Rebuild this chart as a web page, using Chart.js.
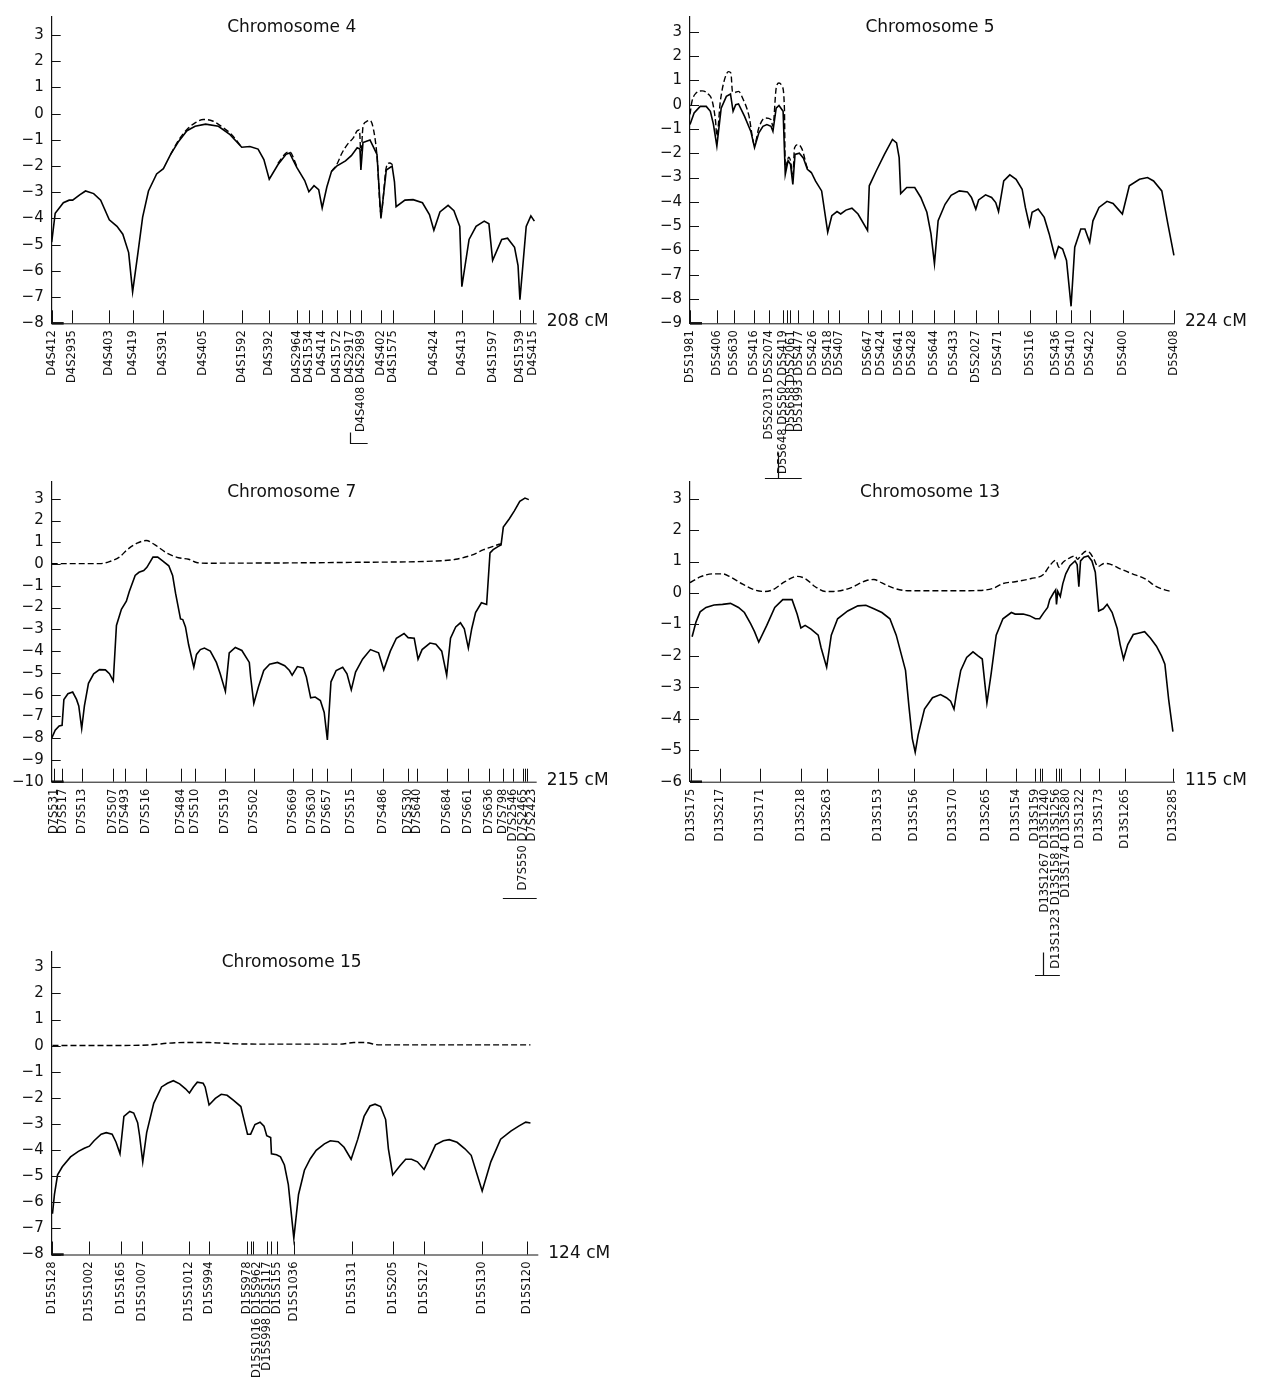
<!DOCTYPE html>
<html>
<head>
<meta charset="utf-8">
<script src="https://cdn.jsdelivr.net/npm/chart.js@4.4.0/dist/chart.umd.min.js"></script>
<style>
  html, body { margin: 0; padding: 0; background: #fff; }
  #page { position: relative; width: 1262px; height: 1384px; }
  #page canvas { position: absolute; }
</style>
</head>
<body>
<div id="page"></div>
<script>
// ---- Chromosome 4 ----
const chr4Markers = ["D4S412", "D4S2935", "D4S403", "D4S419", "D4S391", "D4S405", "D4S1592", "D4S392", "D4S2964", "D4S1534", "D4S414", "D4S1572", "D4S2917", "D4S408 D4S2989", "D4S402", "D4S1575", "D4S424", "D4S413", "D4S1597", "D4S1539", "D4S415"];
const chr4MarkerCM = [0, 8.8, 24.7, 34.7, 47.9, 64.8, 81.5, 93.3, 105.1, 110.3, 116.0, 122.2, 127.9, 132.6, 141.2, 146.5, 163.9, 175.9, 189.1, 200.8, 206.5];
const chr4SolidCM = [0, 1.5, 5, 7.5, 9, 12, 14.5, 18, 21, 24.7, 28, 30.5, 33, 34.7, 37, 39, 41.5, 45, 47.9, 51, 54.5, 58, 61.5, 66, 71.5, 76.5, 81.5, 85, 88.5, 91, 93.3, 97, 100.5, 102, 105.1, 108.5, 110.3, 112.5, 114.5, 116, 118, 120, 122.2, 126, 128.5, 131, 132.2, 132.6, 133.5, 136.5, 139.5, 141.2, 143.5, 146, 147, 147.7, 151.5, 155, 159, 162, 163.9, 166.5, 170, 172.5, 175, 175.9, 179, 182, 185.5, 187.5, 189.1, 193, 195.5, 198.5, 200, 200.8, 203.5, 205.5, 207];
const chr4SolidLod = [-4.9, -3.8, -3.4, -3.3, -3.3, -3.1, -2.95, -3.05, -3.3, -4.05, -4.3, -4.6, -5.3, -6.8, -5.3, -3.95, -2.95, -2.3, -2.1, -1.55, -1.05, -0.65, -0.48, -0.4, -0.48, -0.8, -1.28, -1.25, -1.35, -1.75, -2.5, -1.95, -1.55, -1.5, -2.05, -2.55, -2.98, -2.75, -2.9, -3.6, -2.8, -2.2, -2.0, -1.8, -1.6, -1.3, -1.35, -2.15, -1.1, -1.0, -1.55, -4.0, -2.15, -2.0, -2.6, -3.55, -3.3, -3.28, -3.4, -3.85, -4.45, -3.75, -3.5, -3.7, -4.3, -6.6, -4.8, -4.3, -4.1, -4.2, -5.6, -4.8, -4.75, -5.1, -5.8, -7.1, -4.3, -3.9, -4.1];
const chr4DashCM = [51, 54.5, 58, 61.5, 65, 69, 73, 77, 81.5, null, 97, 100.5, 102, 105.1, null, 120, 122.2, 124.5, 127, 129.5, 131, 132, 132.6, 133.5, 135, 136.5, 138, 139.5, 141.2, 143.5, 145, 146.2];
const chr4DashLod = [-1.55, -1.0, -0.6, -0.35, -0.22, -0.28, -0.5, -0.78, -1.28, null, -1.9, -1.5, -1.45, -2.0, null, -2.2, -1.95, -1.5, -1.15, -0.9, -0.65, -0.62, -1.6, -0.5, -0.3, -0.25, -0.6, -1.6, -3.8, -2.05, -1.88, -1.95];
const chr4Bar = [127.9, 135.5, 127.9];

// ---- Chromosome 5 ----
const chr5Markers = ["D5S1981", "D5S406", "D5S630", "D5S416", "D5S2031 D5S2074", "D5S648 D5S502 D5S419", "", "D5S658 D5S2061", "D5S1993 D5S477", "D5S426", "D5S418", "D5S407", "D5S647", "D5S424", "D5S641", "D5S428", "D5S644", "D5S433", "D5S2027", "D5S471", "D5S116", "D5S436", "D5S410", "D5S422", "D5S400", "D5S408"];
const chr5MarkerCM = [0, 12.5, 20.1, 29.7, 36.3, 43.1, 44.7, 46.2, 50.0, 57.0, 63.8, 68.6, 82.3, 88.4, 96.6, 102.4, 112.9, 121.8, 132.1, 142.4, 157.0, 169.0, 175.9, 184.9, 199.8, 223.5];
const chr5SolidCM = [0, 1.9, 4.7, 7.5, 9.4, 10.8, 12.4, 14.4, 16.8, 18.7, 19.9, 21.1, 22.4, 25.2, 28.1, 29.8, 31.8, 33.7, 35.5, 37.4, 38.3, 39.8, 41.1, 43.0, 44.0, 45.3, 46.4, 47.5, 48.5, 50.5, 52.4, 54.2, 56.1, 58.0, 60.8, 63.6, 65.5, 67.9, 69.6, 72.0, 74.8, 77.6, 82.0, 82.8, 86.0, 89.8, 93.5, 95.4, 96.6, 97.3, 100.1, 103.8, 106.6, 109.4, 111.3, 112.9, 114.6, 117.8, 120.6, 124.4, 128.1, 130.0, 132.0, 133.3, 136.5, 139.3, 141.2, 142.5, 144.9, 147.7, 150.6, 153.4, 154.9, 156.8, 158.0, 160.8, 163.6, 165.9, 168.6, 170.2, 172.1, 173.9, 176.0, 177.7, 180.5, 182.4, 184.6, 186.1, 188.9, 192.6, 195.4, 197.7, 199.7, 202.9, 207.6, 211.3, 214.1, 217.9, 220.7, 223.5];
const chr5SolidLod = [-0.82, -0.34, -0.07, -0.07, -0.27, -0.8, -1.7, -0.14, 0.34, 0.44, -0.27, 0.0, 0.03, -0.48, -1.1, -1.77, -1.16, -0.89, -0.82, -0.89, -1.1, -0.14, -0.03, -0.27, -2.87, -2.3, -2.45, -3.28, -2.05, -2.0, -2.2, -2.66, -2.8, -3.15, -3.55, -5.25, -4.57, -4.4, -4.5, -4.34, -4.26, -4.5, -5.18, -3.34, -2.73, -2.05, -1.43, -1.57, -2.18, -3.66, -3.41, -3.41, -3.82, -4.43, -5.32, -6.55, -4.78, -4.1, -3.73, -3.55, -3.59, -3.82, -4.3, -3.92, -3.71, -3.82, -4.03, -4.4, -3.14, -2.89, -3.07, -3.48, -4.23, -4.98, -4.43, -4.3, -4.64, -5.32, -6.28, -5.84, -5.94, -6.41, -8.3, -5.87, -5.12, -5.12, -5.66, -4.78, -4.23, -3.98, -4.07, -4.3, -4.5, -3.34, -3.07, -3.0, -3.14, -3.55, -4.91, -6.2];
const chr5DashCM = [0, 0.9, 2.8, 5.6, 8.4, 10.3, 11.8, 12.4, 14.0, 15.9, 17.8, 18.9, 19.6, 20.6, 22.4, 24.3, 27.1, 29.8, 31.8, 34.6, 37.4, 38.3, 39.8, 41.1, 42.6, 43.6, 44.0, 45.6, 46.4, 47.5, 48.3, 50.0, 51.8, 54.2, 56.1];
const chr5DashLod = [-0.4, 0.13, 0.48, 0.57, 0.44, 0.14, -0.68, -1.3, 0.13, 1.02, 1.36, 1.3, 0.55, 0.5, 0.55, 0.27, -0.41, -1.64, -0.95, -0.55, -0.61, -0.89, 0.68, 0.89, 0.75, -0.14, -2.6, -2.16, -2.3, -2.87, -1.77, -1.64, -1.84, -2.6, -2.8];
const chr5Bar = [34.6, 51.6, 40.8];

// ---- Chromosome 7 ----
const chr7Markers = ["D7S531", "D7S517", "D7S513", "D7S507", "D7S493", "D7S516", "D7S484", "D7S510", "D7S519", "D7S502", "D7S669", "D7S630", "D7S657", "D7S515", "D7S486", "D7S530", "D7S640", "D7S684", "D7S661", "D7S636", "D7S798", "D7S2546", "D7S550 D7S2465", "", "D7S2423"];
const chr7MarkerCM = [1.0, 4.4, 13.3, 27.3, 32.6, 41.8, 57.4, 63.4, 77.0, 89.5, 106.8, 115.4, 121.9, 132.5, 147.0, 158.1, 162.1, 175.1, 184.7, 194.0, 199.9, 204.3, 208.8, 209.8, 210.8];
const chr7SolidCM = [0, 1.55, 3.3, 4.6, 5.4, 7.2, 9.3, 11.0, 12.0, 13.3, 14.5, 16.3, 18.6, 21.2, 23.8, 25.6, 27.3, 28.7, 30.9, 33.1, 34.4, 37.0, 38.7, 40.8, 42.2, 44.9, 47.0, 49.3, 51.9, 53.6, 54.9, 57.1, 58.1, 59.3, 60.7, 63.0, 64.2, 65.9, 67.7, 70.3, 73.0, 74.7, 77.0, 78.7, 81.4, 84.3, 87.6, 88.2, 89.6, 91.7, 94.0, 96.6, 100.1, 103.3, 105.4, 106.6, 108.9, 111.5, 112.9, 114.8, 116.8, 119.1, 120.8, 122.2, 123.8, 126.1, 129.0, 130.9, 132.8, 134.7, 137.8, 141.3, 144.9, 147.2, 150.1, 152.8, 156.2, 158.0, 160.7, 162.4, 164.2, 167.7, 170.3, 172.9, 175.1, 176.8, 179.1, 181.2, 182.9, 184.7, 186.2, 187.9, 190.5, 192.8, 194.3, 195.7, 198.0, 199.2, 200.2, 202.8, 205.1, 207.5, 209.8, 211.5];
const chr7SolidLod = [-8.0, -7.63, -7.44, -7.41, -6.22, -5.96, -5.88, -6.22, -6.52, -7.56, -6.52, -5.48, -5.04, -4.85, -4.86, -5.04, -5.37, -2.82, -2.08, -1.71, -1.26, -0.52, -0.38, -0.3, -0.15, 0.32, 0.32, 0.14, -0.08, -0.52, -1.34, -2.52, -2.55, -2.89, -3.71, -4.74, -4.15, -3.93, -3.86, -4.0, -4.52, -5.04, -5.85, -4.08, -3.83, -3.97, -4.52, -5.19, -6.4, -5.63, -4.89, -4.6, -4.52, -4.67, -4.89, -5.11, -4.71, -4.77, -5.19, -6.15, -6.11, -6.27, -6.82, -8.08, -5.41, -4.89, -4.74, -5.04, -5.78, -4.96, -4.37, -3.93, -4.08, -4.86, -4.0, -3.41, -3.19, -3.38, -3.41, -4.37, -3.93, -3.63, -3.68, -4.0, -5.11, -3.41, -2.89, -2.7, -2.97, -3.86, -2.97, -2.23, -1.78, -1.86, 0.51, 0.66, 0.81, 0.88, 1.7, 2.07, 2.44, 2.88, 3.03, 2.96];
const chr7DashCM = [0, 12.4, 21.2, 25.6, 30.0, 33.5, 37.9, 41.9, 45.8, 51.0, 56.2, 60.7, 64.2, 68.5, 100.1, 135.2, 170.3, 179.1, 186.2, 191.5, 195.7, 198.3, 199.2];
const chr7DashLod = [0.02, 0.02, 0.02, 0.11, 0.32, 0.66, 0.96, 1.08, 0.88, 0.51, 0.29, 0.22, 0.07, 0.04, 0.05, 0.08, 0.14, 0.22, 0.41, 0.66, 0.81, 0.91, 0.93];
const chr7Bar = [200.0, 215.0, null];

// ---- Chromosome 13 ----
const chr13Markers = ["D13S175", "D13S217", "D13S171", "D13S218", "D13S263", "D13S153", "D13S156", "D13S170", "D13S265", "D13S154", "D13S159", "D13S1267 D13S1240", "", "D13S1323 D13S158 D13S1256", "", "D13S174 D13S280", "D13S1322", "D13S173", "D13S1265", "D13S285"];
const chr13MarkerCM = [0.3, 7.1, 16.5, 26.4, 32.5, 44.5, 53.2, 62.4, 70.1, 77.4, 81.8, 82.9, 83.4, 86.9, 87.5, 88.0, 92.4, 96.9, 103.1, 114.5];
const chr13SolidCM = [0.5, 1.4, 2.4, 3.8, 5.7, 7.7, 9.6, 11.5, 12.9, 14.4, 15.3, 16.3, 18.2, 20.1, 22.0, 24.2, 25.4, 26.3, 27.3, 28.7, 30.4, 31.1, 32.4, 33.5, 35.0, 37.4, 39.8, 41.7, 43.6, 45.5, 47.4, 48.9, 50.1, 51.1, 51.9, 52.7, 53.4, 54.1, 55.6, 57.5, 59.4, 60.8, 61.8, 62.6, 63.2, 64.2, 65.6, 67.1, 68.3, 69.3, 70.4, 71.4, 72.6, 74.2, 76.2, 77.1, 79.0, 80.5, 81.9, 82.9, 83.8, 84.8, 85.3, 86.2, 86.7, 86.9, 87.2, 87.8, 88.4, 89.1, 90.1, 91.3, 91.8, 92.2, 92.6, 93.4, 94.4, 95.3, 96.1, 96.9, 98.0, 98.9, 100.1, 101.3, 102.0, 102.8, 103.8, 105.1, 106.3, 107.8, 109.2, 110.6, 111.8, 112.6, 113.5, 114.5];
const chr13SolidLod = [-1.39, -0.93, -0.6, -0.46, -0.38, -0.36, -0.33, -0.46, -0.62, -0.98, -1.23, -1.56, -1.03, -0.46, -0.21, -0.21, -0.67, -1.11, -1.03, -1.15, -1.34, -1.75, -2.36, -1.34, -0.82, -0.57, -0.41, -0.39, -0.5, -0.62, -0.82, -1.34, -1.95, -2.46, -3.59, -4.62, -5.06, -4.51, -3.69, -3.33, -3.23, -3.33, -3.44, -3.69, -3.18, -2.46, -2.05, -1.87, -2.0, -2.1, -3.49, -2.57, -1.34, -0.82, -0.62, -0.67, -0.67, -0.72, -0.82, -0.82, -0.64, -0.46, -0.21, 0.0, 0.1, -0.36, 0.05, -0.11, 0.3, 0.61, 0.87, 1.02, 0.9, 0.2, 1.02, 1.14, 1.18, 1.02, 0.66, -0.57, -0.5, -0.36, -0.62, -1.13, -1.64, -2.1, -1.64, -1.32, -1.28, -1.23, -1.44, -1.69, -2.0, -2.26, -3.39, -4.41];
const chr13DashCM = [0, 2.4, 5.3, 7.7, 9.6, 12.5, 15.3, 17.7, 19.6, 22.5, 25.4, 27.3, 29.7, 32.1, 34.0, 37.8, 41.7, 43.6, 45.5, 48.4, 52.2, 61.8, 68.5, 71.9, 74.2, 77.1, 80.9, 83.8, 85.3, 86.7, 87.5, 88.4, 90.1, 91.3, 91.9, 92.6, 93.9, 94.8, 95.8, 96.7, 98.2, 99.6, 102.0, 104.9, 107.8, 110.6, 112.6, 114.0];
const chr13DashLod = [0.33, 0.51, 0.61, 0.61, 0.51, 0.28, 0.1, 0.05, 0.1, 0.36, 0.53, 0.46, 0.2, 0.05, 0.05, 0.15, 0.39, 0.43, 0.32, 0.15, 0.07, 0.07, 0.08, 0.15, 0.3, 0.36, 0.46, 0.59, 0.87, 1.04, 0.82, 0.97, 1.12, 1.18, 1.07, 1.18, 1.33, 1.28, 1.07, 0.84, 0.94, 0.92, 0.77, 0.61, 0.46, 0.2, 0.1, 0.05];
const chr13Bar = [81.8, 87.7, 83.7];

// ---- Chromosome 15 ----
const chr15Markers = ["D15S128", "D15S1002", "D15S165", "D15S1007", "D15S1012", "D15S994", "D15S978", "", "D15S1016 D15S962", "D15S998 D15S117", "", "D15S155", "D15S1036", "D15S131", "D15S205", "D15S127", "D15S130", "D15S120"];
const chr15MarkerCM = [0, 9.6, 17.6, 23.1, 35.0, 40.2, 49.8, 50.7, 51.4, 54.8, 55.8, 57.5, 61.7, 76.6, 87.1, 95.0, 109.6, 121.0];
const chr15SolidCM = [0.2, 0.7, 1.5, 2.7, 4.8, 6.8, 8.3, 9.6, 10.8, 12.6, 13.9, 15.4, 16.4, 17.4, 18.4, 19.9, 20.9, 21.9, 22.4, 23.2, 24.2, 26.0, 28.0, 29.5, 31.0, 32.6, 34.1, 35.1, 36.1, 37.1, 38.6, 39.1, 40.1, 41.7, 43.2, 44.7, 46.2, 48.2, 49.0, 49.9, 50.7, 51.8, 53.1, 54.1, 54.8, 55.8, 56.0, 57.3, 58.3, 59.3, 60.3, 61.7, 62.9, 64.4, 65.9, 67.4, 69.5, 71.0, 73.0, 74.5, 76.3, 78.0, 79.6, 81.1, 82.4, 83.8, 85.1, 85.8, 86.9, 88.7, 90.2, 91.7, 93.2, 94.9, 96.2, 97.8, 99.8, 101.3, 103.3, 105.3, 106.9, 109.7, 111.9, 114.4, 117.0, 119.0, 120.8, 122.0];
const chr15SolidLod = [-6.44, -5.7, -4.95, -4.64, -4.26, -4.05, -3.93, -3.85, -3.64, -3.39, -3.33, -3.39, -3.7, -4.14, -2.71, -2.52, -2.58, -2.95, -3.45, -4.45, -3.33, -2.21, -1.58, -1.44, -1.34, -1.46, -1.65, -1.81, -1.58, -1.4, -1.44, -1.58, -2.27, -2.02, -1.86, -1.9, -2.08, -2.33, -2.83, -3.39, -3.39, -3.02, -2.93, -3.08, -3.45, -3.52, -4.14, -4.18, -4.26, -4.57, -5.32, -7.38, -5.7, -4.77, -4.33, -4.01, -3.76, -3.64, -3.68, -3.89, -4.35, -3.58, -2.71, -2.31, -2.24, -2.33, -2.83, -3.95, -4.95, -4.61, -4.35, -4.35, -4.45, -4.74, -4.33, -3.8, -3.64, -3.6, -3.7, -3.95, -4.2, -5.57, -4.45, -3.58, -3.27, -3.08, -2.93, -2.96];
const chr15DashCM = [0.2, 16.9, 25.0, 30.0, 34.1, 40.1, 47.2, 57.3, 73.5, 77.0, 79.6, 83.6, 97.8, 122.0];
const chr15DashLod = [0.01, 0.01, 0.03, 0.1, 0.12, 0.12, 0.07, 0.06, 0.06, 0.12, 0.12, 0.03, 0.03, 0.03];

// layout of each panel on the page (box = canvas, area = plot area, page pixels)
const panels = [
  { title: "Chromosome 4", total: 208, yMin: -8, yMax: 3.69, names: chr4Markers, pos: chr4MarkerCM,
    solid: [chr4SolidCM, chr4SolidLod], dash: [chr4DashCM, chr4DashLod], bar: chr4Bar,
    box: [0, 0, 631, 470], area: [51.7, 15, 536.7, 323.3], gap: 10, barDrop: 119.7, barTick: 11 },
  { title: "Chromosome 5", total: 224, yMin: -9, yMax: 3.61, names: chr5Markers, pos: chr5MarkerCM,
    solid: [chr5SolidCM, chr5SolidLod], dash: [chr5DashCM, chr5DashLod], bar: chr5Bar,
    box: [631, 0, 631, 495], area: [690, 15, 1175, 323.3], gap: 8, barDrop: 154.7, barTick: 26 },
  { title: "Chromosome 7", total: 215, yMin: -10, yMax: 3.77, names: chr7Markers, pos: chr7MarkerCM,
    solid: [chr7SolidCM, chr7SolidLod], dash: [chr7DashCM, chr7DashLod], bar: chr7Bar,
    box: [0, 465, 631, 470], area: [51.7, 471.7, 536.7, 781.7], gap: 9, barDrop: 116.3, barTick: 0 },
  { title: "Chromosome 13", total: 115, yMin: -6, yMax: 3.53, names: chr13Markers, pos: chr13MarkerCM,
    solid: [chr13SolidCM, chr13SolidLod], dash: [chr13DashCM, chr13DashLod], bar: chr13Bar,
    box: [631, 465, 631, 530], area: [690, 471.7, 1175, 781.7], gap: 10, barDrop: 193.3, barTick: 23 },
  { title: "Chromosome 15", total: 124, yMin: -8, yMax: 3.59, names: chr15Markers, pos: chr15MarkerCM,
    solid: [chr15SolidCM, chr15SolidLod], dash: [chr15DashCM, chr15DashLod], bar: null,
    box: [0, 935, 631, 449], area: [51.7, 945, 538.3, 1254.5], gap: 10 },
];

const FONT = '"DejaVu Sans", sans-serif';
const INK = "#111";

function toPoints(xs, ys) {
  return xs.map((x, i) => ({ x: x, y: ys[i] }));
}

// axis line, inward ticks, marker ticks + rotated names, title, cM label, bracket
function markerPlugin(p) {
  return {
    id: "markers",
    afterDraw(chart) {
      const { ctx, chartArea: a } = chart;
      const x = chart.scales.x, y = chart.scales.y;
      ctx.save();
      ctx.strokeStyle = INK;
      ctx.fillStyle = INK;

      // bottom axis
      ctx.lineWidth = 1;
      ctx.beginPath();
      ctx.moveTo(a.left, a.bottom + 0.5);
      ctx.lineTo(a.right, a.bottom + 0.5);
      ctx.stroke();
      ctx.lineWidth = 2.5;
      ctx.beginPath();
      ctx.moveTo(a.left, a.bottom);
      ctx.lineTo(a.left + 12, a.bottom);
      ctx.stroke();

      // y ticks pointing into the plot
      ctx.lineWidth = 1;
      ctx.beginPath();
      for (let v = Math.ceil(y.min); v <= Math.floor(y.max); v++) {
        const py = Math.round(y.getPixelForValue(v)) + 0.5;
        ctx.moveTo(a.left, py);
        ctx.lineTo(a.left + 9, py);
      }
      ctx.stroke();

      // marker ticks
      ctx.beginPath();
      p.pos.forEach(cm => {
        const px = Math.round(x.getPixelForValue(cm)) + 0.5;
        ctx.moveTo(px, a.bottom);
        ctx.lineTo(px, a.bottom - 13);
      });
      ctx.stroke();

      // marker names, pushed apart where they crowd
      ctx.font = "11.5px " + FONT;
      ctx.textAlign = "right";
      ctx.textBaseline = "middle";
      let last = -Infinity;
      p.names.forEach((name, i) => {
        if (!name) return;
        const lx = Math.max(x.getPixelForValue(p.pos[i]), last + p.gap);
        last = lx;
        ctx.save();
        ctx.translate(lx, a.bottom + 7);
        ctx.rotate(-Math.PI / 2);
        ctx.fillText(name, 0, 0);
        ctx.restore();
      });

      // bracket under a crowded group
      if (p.bar) {
        const by = Math.round(a.bottom + p.barDrop) + 0.5;
        ctx.lineWidth = 1.2;
        ctx.beginPath();
        ctx.moveTo(x.getPixelForValue(p.bar[0]), by);
        ctx.lineTo(x.getPixelForValue(p.bar[1]), by);
        if (p.bar[2] !== null && p.barTick) {
          const tx = Math.round(x.getPixelForValue(p.bar[2])) + 0.5;
          ctx.moveTo(tx, by);
          ctx.lineTo(tx, by - p.barTick);
        }
        ctx.stroke();
      }

      // title
      ctx.font = "17px " + FONT;
      ctx.textAlign = "center";
      ctx.textBaseline = "middle";
      ctx.fillText(p.title, a.left + 240, a.top + 11);

      // length of the chromosome
      ctx.textAlign = "left";
      ctx.textBaseline = "alphabetic";
      ctx.fillText(p.total + " cM", a.right + 10, a.bottom + 3);

      ctx.restore();
    }
  };
}

const page = document.getElementById("page");

panels.forEach(p => {
  const [bl, bt, bw, bh] = p.box;
  const [al, at, ar, ab] = p.area;
  const canvas = document.createElement("canvas");
  canvas.width = bw;
  canvas.height = bh;
  canvas.style.left = bl + "px";
  canvas.style.top = bt + "px";
  canvas.style.width = bw + "px";
  canvas.style.height = bh + "px";
  page.appendChild(canvas);

  new Chart(canvas.getContext("2d"), {
    type: "line",
    data: {
      datasets: [
        {
          data: toPoints(p.solid[0], p.solid[1]),
          borderColor: "#000",
          borderWidth: 1.6,
          pointRadius: 0,
          tension: 0,
        },
        {
          data: toPoints(p.dash[0], p.dash[1]),
          borderColor: "#000",
          borderWidth: 1.4,
          borderDash: [6, 3],
          pointRadius: 0,
          cubicInterpolationMode: "monotone",
          spanGaps: false,
        },
      ],
    },
    options: {
      responsive: false,
      animation: false,
      events: [],
      layout: { padding: { left: 0, top: at - bt, right: bl + bw - ar, bottom: bt + bh - ab } },
      plugins: { legend: { display: false }, tooltip: { enabled: false } },
      scales: {
        x: { type: "linear", display: false, min: 0, max: p.total },
        y: {
          min: p.yMin,
          max: p.yMax,
          grid: { display: false, drawTicks: false },
          border: { display: true, color: INK, width: 1.2 },
          ticks: {
            stepSize: 1,
            includeBounds: false,
            padding: 8,
            color: INK,
            font: { family: FONT, size: 15 },
            callback: v => (v < 0 ? "\u2212" + (-v) : "" + v),
          },
          afterFit: s => { s.width = al - bl; },
        },
      },
    },
    plugins: [markerPlugin(p)],
  });
});
</script>
</body>
</html>
